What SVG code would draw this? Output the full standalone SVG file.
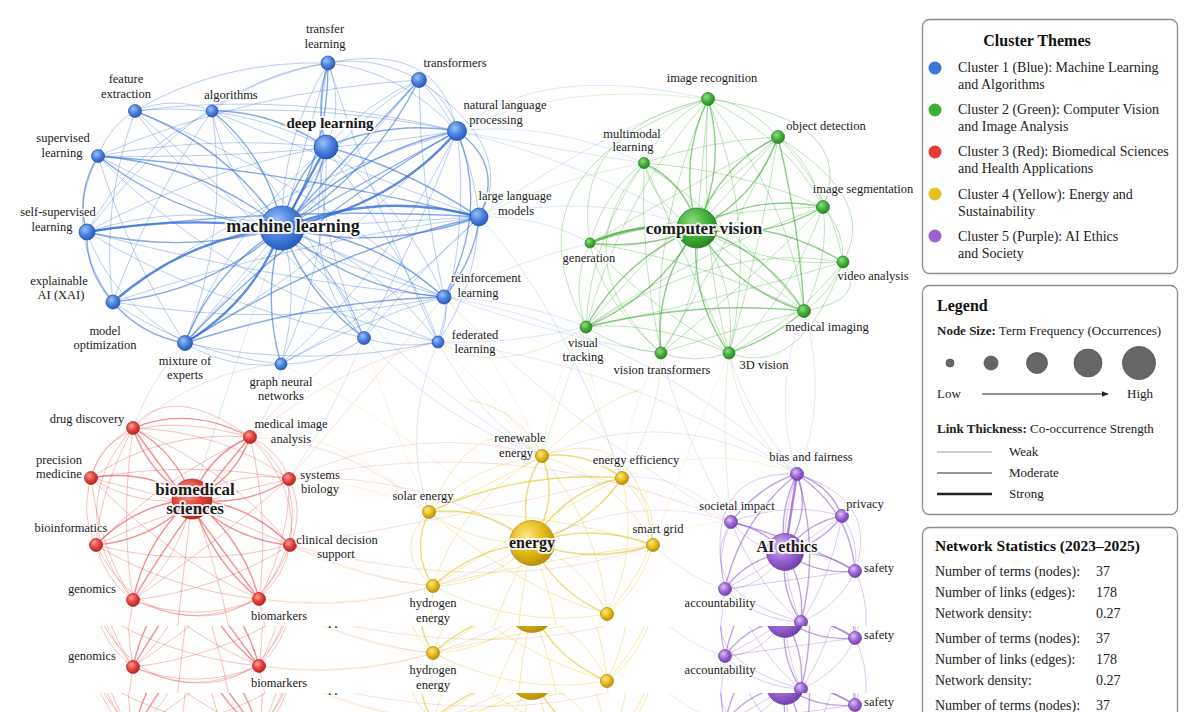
<svg xmlns="http://www.w3.org/2000/svg" xmlns:xlink="http://www.w3.org/1999/xlink" width="1200" height="712" viewBox="0 0 1200 712">
<defs>
<style>
.c path{fill:none;stroke-linecap:round}
.B{stroke:#2f6cd8}.G{stroke:#3aab31}.R{stroke:#e8403a}.Y{stroke:#e6bf18}.P{stroke:#9560d2}
.s{stroke-width:2.4;stroke-opacity:.78}
.m{stroke-width:1.4;stroke-opacity:.58}
.w{stroke-width:.85;stroke-opacity:.4}
.x{stroke-width:.7;stroke-opacity:.25}
.nd circle{stroke-width:.7}
.nb{fill:url(#gB);stroke:#1d4c9e}.ng{fill:url(#gG);stroke:#257a20}.nr{fill:url(#gR);stroke:#a8221d}.ny{fill:url(#gY);stroke:#a88306}.np{fill:url(#gP);stroke:#6a3ba5}
.lb{font-family:"Liberation Serif","DejaVu Serif",serif;font-size:12.5px;fill:#1a1a1a;stroke:#fff;stroke-width:3;stroke-opacity:.85;paint-order:stroke;stroke-linejoin:round;text-anchor:middle}
.hub{font-weight:bold;stroke-width:4}
.h18{font-size:18px}.h17{font-size:17px}.h16{font-size:16px}.h15{font-size:15px}
.pt{font-family:"Liberation Serif","DejaVu Serif",serif;font-size:14px;fill:#222}
.pb{font-weight:bold;fill:#111}
.t16{font-size:16px}.t155{font-size:15.5px}.t13{font-size:13px}
.box{fill:#fff;stroke:#8c8c8c;stroke-width:1.3}
</style>
<radialGradient id="gB" cx=".38" cy=".34" r=".72"><stop offset="0" stop-color="#9cc0f6"/><stop offset=".5" stop-color="#4a82e0"/><stop offset="1" stop-color="#2257b8"/></radialGradient>
<radialGradient id="gG" cx=".38" cy=".34" r=".72"><stop offset="0" stop-color="#92dc82"/><stop offset=".5" stop-color="#44b23c"/><stop offset="1" stop-color="#26801f"/></radialGradient>
<radialGradient id="gR" cx=".38" cy=".34" r=".72"><stop offset="0" stop-color="#f6a39b"/><stop offset=".5" stop-color="#e5433c"/><stop offset="1" stop-color="#ad231e"/></radialGradient>
<radialGradient id="gY" cx=".38" cy=".34" r=".72"><stop offset="0" stop-color="#fae88a"/><stop offset=".5" stop-color="#e7bd18"/><stop offset="1" stop-color="#b38a06"/></radialGradient>
<radialGradient id="gP" cx=".38" cy=".34" r=".72"><stop offset="0" stop-color="#dcc2f4"/><stop offset=".5" stop-color="#9e68d6"/><stop offset="1" stop-color="#6c3ca8"/></radialGradient>
<marker id="arr" viewBox="0 0 10 10" refX="9" refY="5" markerWidth="7" markerHeight="7" orient="auto"><path d="M0 1 L10 5 L0 9 Z" fill="#222"/></marker>
<clipPath id="cTop" clipPathUnits="userSpaceOnUse"><rect x="0" y="0" width="1200" height="626"/></clipPath>
<clipPath id="cS1" clipPathUnits="userSpaceOnUse"><rect x="0" y="626" width="1200" height="67"/></clipPath>
<clipPath id="cS2" clipPathUnits="userSpaceOnUse"><rect x="0" y="693" width="1200" height="19"/></clipPath>
</defs>
<rect width="1200" height="712" fill="#fff"/>
<g id="scene" clip-path="url(#cTop)">
<rect width="1200" height="626" fill="#fff"/>
<g id="connectors" class="c">
<!-- inter-cluster faint -->
<path class="B x" d="M457 131 Q550 120 644 163"/><path class="B x" d="M457 131 Q560 150 644 163"/><path class="B x" d="M479 217 Q540 215 590 243"/><path class="B x" d="M479 217 Q590 190 697 228"/><path class="B x" d="M457 131 Q580 160 697 228"/><path class="B x" d="M444 297 Q520 300 586 327"/><path class="B x" d="M438 342 Q510 345 586 327"/><path class="B x" d="M282 228 Q430 400 542 456"/><path class="B x" d="M281 364 Q280 400 250 437"/><path class="B x" d="M185 343 Q150 380 133 428"/><path class="B x" d="M364 338 Q440 420 542 456"/><path class="B x" d="M438 342 Q480 420 542 456"/><path class="B x" d="M282 228 Q230 380 192 499"/><path class="B x" d="M444 297 Q640 330 797 474"/><path class="B x" d="M282 228 Q500 330 661 353"/><path class="B x" d="M364 338 Q330 420 289 479"/><path class="B x" d="M438 342 Q400 430 429 512"/><path class="B x" d="M479 217 Q560 300 622 478"/><path class="B x" d="M479 217 Q620 120 708 99"/><path class="B x" d="M457 131 Q540 60 708 99"/>
<path class="G x" d="M586 327 Q560 400 542 456"/><path class="G x" d="M661 353 Q660 420 622 478"/><path class="G x" d="M729 353 Q740 430 797 474"/><path class="G x" d="M804 311 Q830 400 797 474"/><path class="G x" d="M586 327 Q500 380 438 342"/><path class="G x" d="M590 243 Q520 260 444 297"/><path class="G x" d="M644 163 Q550 180 479 217"/><path class="G x" d="M708 99 Q560 80 457 131"/><path class="G x" d="M729 353 Q720 420 731 522"/>
<path class="R x" d="M250 437 Q350 440 429 512"/><path class="R x" d="M289 479 Q420 470 532 543"/><path class="R x" d="M290 545 Q370 580 433 586"/><path class="R x" d="M289 479 Q420 420 542 456"/><path class="R x" d="M250 437 Q350 360 438 342"/><path class="R x" d="M289 479 Q390 360 444 297"/><path class="R x" d="M259 599 Q400 620 532 543"/><path class="R x" d="M250 437 Q300 380 364 338"/><path class="R x" d="M290 545 Q450 520 622 478"/><path class="R x" d="M289 479 Q520 430 731 522"/><path class="R x" d="M290 545 Q500 600 653 545"/><path class="R x" d="M133 428 Q200 370 281 364"/>
<path class="Y x" d="M429 512 Q390 420 364 338"/><path class="Y x" d="M542 456 Q480 380 438 342"/><path class="Y x" d="M542 456 Q550 380 586 327"/><path class="Y x" d="M622 478 Q630 400 661 353"/><path class="Y x" d="M622 478 Q590 400 586 327"/><path class="Y x" d="M429 512 Q360 480 289 479"/><path class="Y x" d="M433 586 Q360 580 290 545"/><path class="Y x" d="M433 586 Q350 610 259 599"/><path class="Y x" d="M622 478 Q710 440 797 474"/><path class="Y x" d="M653 545 Q690 520 731 522"/><path class="Y x" d="M542 456 Q500 360 444 297"/><path class="Y x" d="M532 543 Q400 420 281 364"/><path class="Y x" d="M429 512 Q330 420 250 437"/><path class="Y x" d="M653 545 Q700 420 729 353"/>
<path class="P x" d="M797 474 Q745 410 729 353"/><path class="P x" d="M797 474 Q770 390 804 311"/><path class="P x" d="M731 522 Q680 470 622 478"/><path class="P x" d="M731 522 Q640 490 532 543"/><path class="P x" d="M797 474 Q670 400 542 456"/><path class="P x" d="M725 589 Q690 580 653 545"/><path class="P x" d="M797 474 Q620 360 438 342"/><path class="P x" d="M731 522 Q680 430 661 353"/><path class="P x" d="M731 522 Q560 420 444 297"/>
<!-- blue cluster -->
<path class="B s" d="M282 228 L326 147"/><path class="B m" d="M282 228 Q317 194 326 147"/><path class="B m" d="M282 228 Q291 180 326 147"/>
<path class="B m" d="M282 228 Q329 152 328 63"/><path class="B w" d="M282 228 Q281 139 328 63"/><path class="B w" d="M282 228 L328 63"/>
<path class="B m" d="M282 228 Q372 174 419 80"/><path class="B w" d="M282 228 Q329 134 419 80"/><path class="B m" d="M282 228 L419 80"/>
<path class="B s" d="M282 228 Q395 205 457 131"/><path class="B m" d="M282 228 Q355 153 457 131"/><path class="B m" d="M282 228 L457 131"/>
<path class="B s" d="M282 228 Q380 190 479 217"/><path class="B m" d="M282 228 Q382 252 479 217"/><path class="B w" d="M282 228 L479 217"/>
<path class="B m" d="M282 228 Q351 290 444 297"/><path class="B m" d="M282 228 Q375 235 444 297"/><path class="B w" d="M282 228 L444 297"/>
<path class="B w" d="M282 228 Q342 309 438 342"/><path class="B w" d="M282 228 Q378 261 438 342"/>
<path class="B m" d="M282 228 Q307 295 364 338"/><path class="B w" d="M282 228 Q339 270 364 338"/>
<path class="B m" d="M282 228 Q261 296 281 364"/><path class="B w" d="M282 228 Q301 296 281 364"/>
<path class="B s" d="M282 228 Q253 302 185 343"/><path class="B m" d="M282 228 Q214 269 185 343"/><path class="B w" d="M282 228 L185 343"/>
<path class="B s" d="M282 228 Q186 238 113 302"/><path class="B m" d="M282 228 Q210 292 113 302"/>
<path class="B s" d="M282 228 Q184 215 87 232"/><path class="B m" d="M282 228 Q185 255 87 232"/><path class="B w" d="M282 228 Q184 200 87 232"/>
<path class="B m" d="M282 228 Q201 164 98 156"/><path class="B m" d="M282 228 Q179 220 98 156"/>
<path class="B m" d="M282 228 Q227 146 135 111"/><path class="B w" d="M282 228 Q190 192 135 111"/>
<path class="B m" d="M282 228 Q268 156 212 111"/><path class="B w" d="M282 228 Q226 182 212 111"/>
<path class="B m" d="M98 156 Q75 195 87 232"/><path class="B m" d="M87 232 Q85 270 113 302"/><path class="B m" d="M113 302 Q140 335 185 343"/><path class="B w" d="M185 343 Q230 370 281 364"/><path class="B w" d="M281 364 Q325 365 364 338"/><path class="B w" d="M364 338 Q400 350 438 342"/><path class="B w" d="M438 342 Q450 320 444 297"/><path class="B m" d="M444 297 Q475 260 479 217"/><path class="B m" d="M479 217 Q505 165 457 131"/><path class="B w" d="M457 131 Q450 100 419 80"/><path class="B w" d="M419 80 Q375 55 328 63"/><path class="B m" d="M328 63 Q315 105 326 147"/><path class="B w" d="M328 63 Q345 105 326 147"/>
<path class="B w" d="M135 111 Q173 95 212 111"/><path class="B w" d="M135 111 Q110 125 98 156"/><path class="B m" d="M212 111 Q270 110 326 147"/><path class="B w" d="M135 111 Q230 100 326 147"/><path class="B m" d="M326 147 Q390 120 457 131"/><path class="B m" d="M326 147 Q400 165 479 217"/><path class="B w" d="M326 147 Q370 100 419 80"/><path class="B w" d="M326 147 Q400 200 444 297"/><path class="B w" d="M326 147 Q330 260 281 364"/><path class="B w" d="M326 147 Q230 230 185 343"/><path class="B w" d="M326 147 Q200 170 87 232"/><path class="B w" d="M326 147 Q210 135 98 156"/>
<path class="B m" d="M185 343 Q320 300 444 297"/><path class="B m" d="M185 343 Q330 250 479 217"/><path class="B m" d="M185 343 Q300 220 457 131"/><path class="B w" d="M113 302 Q300 240 479 217"/><path class="B w" d="M113 302 Q260 190 457 131"/><path class="B m" d="M87 232 Q280 205 479 217"/><path class="B w" d="M87 232 Q270 280 444 297"/><path class="B w" d="M98 156 Q280 160 457 131"/><path class="B m" d="M98 156 Q290 170 479 217"/><path class="B w" d="M98 156 Q260 240 444 297"/><path class="B w" d="M135 111 Q290 90 457 131"/><path class="B w" d="M135 111 Q290 170 444 297"/><path class="B w" d="M135 111 Q240 200 364 338"/><path class="B w" d="M212 111 Q330 105 457 131"/><path class="B w" d="M212 111 Q300 210 364 338"/><path class="B w" d="M212 111 Q230 230 185 343"/>
<path class="B w" d="M281 364 Q390 270 457 131"/><path class="B w" d="M281 364 Q400 300 479 217"/><path class="B w" d="M281 364 Q360 320 444 297"/><path class="B w" d="M364 338 Q420 230 457 131"/><path class="B w" d="M364 338 Q420 270 479 217"/><path class="B w" d="M438 342 Q475 290 479 217"/><path class="B w" d="M438 342 Q470 230 457 131"/><path class="B m" d="M444 297 Q490 210 457 131"/><path class="B w" d="M419 80 Q470 130 479 217"/><path class="B w" d="M419 80 Q420 190 444 297"/><path class="B w" d="M419 80 Q250 90 98 156"/><path class="B w" d="M328 63 Q220 60 135 111"/><path class="B w" d="M328 63 Q400 70 457 131"/><path class="B w" d="M328 63 Q260 75 212 111"/><path class="B w" d="M328 63 Q300 200 364 338"/><path class="B w" d="M328 63 Q200 80 87 232"/><path class="B w" d="M113 302 Q60 230 98 156"/><path class="B w" d="M87 232 Q110 300 185 343"/><path class="B w" d="M98 156 Q130 260 185 343"/><path class="B w" d="M113 302 Q190 355 281 364"/><path class="B w" d="M185 343 Q310 370 438 342"/><path class="B w" d="M113 302 Q280 330 444 297"/><path class="B w" d="M135 111 Q100 210 113 302"/><path class="B w" d="M212 111 Q150 200 113 302"/><path class="B w" d="M212 111 Q130 150 87 232"/><path class="B w" d="M419 80 Q520 150 479 217"/><path class="B w" d="M328 63 Q440 40 457 131"/>
<path class="B w" d="M87 232 Q200 300 364 338"/><path class="B w" d="M98 156 Q240 300 438 342"/><path class="B w" d="M419 80 Q300 220 185 343"/><path class="B w" d="M457 131 Q330 260 185 343"/><path class="B w" d="M328 63 Q380 220 438 342"/><path class="B w" d="M212 111 Q380 180 479 217"/><path class="B w" d="M326 147 Q420 280 438 342"/><path class="B w" d="M326 147 Q300 280 364 338"/>
<!-- green cluster -->
<path class="G m" d="M697 228 Q727 165 708 99"/><path class="G m" d="M697 228 Q678 161 708 99"/><path class="G w" d="M697 228 L708 99"/>
<path class="G m" d="M697 228 Q756 199 778 137"/><path class="G m" d="M697 228 Q719 165 778 137"/><path class="G w" d="M697 228 L778 137"/>
<path class="G m" d="M697 228 Q686 183 644 163"/><path class="G w" d="M697 228 Q655 207 644 163"/>
<path class="G m" d="M697 228 Q764 242 823 207"/><path class="G m" d="M697 228 Q756 193 823 207"/>
<path class="G w" d="M697 228 Q764 268 843 262"/><path class="G m" d="M697 228 Q775 220 843 262"/>
<path class="G m" d="M697 228 Q735 289 804 311"/><path class="G m" d="M697 228 Q765 250 804 311"/><path class="G w" d="M697 228 L804 311"/>
<path class="G m" d="M697 228 Q689 297 729 353"/><path class="G w" d="M697 228 Q738 283 729 353"/>
<path class="G m" d="M697 228 Q654 283 661 353"/><path class="G w" d="M697 228 Q703 298 661 353"/>
<path class="G m" d="M697 228 Q625 258 586 327"/><path class="G m" d="M697 228 Q658 296 586 327"/>
<path class="G s" d="M697 228 Q641 221 590 243"/><path class="G m" d="M697 228 Q646 250 590 243"/>
<path class="G w" d="M708 99 Q745 100 778 137"/><path class="G w" d="M778 137 Q810 160 823 207"/><path class="G w" d="M823 207 Q845 230 843 262"/><path class="G w" d="M843 262 Q830 295 804 311"/><path class="G m" d="M804 311 Q770 340 729 353"/><path class="G w" d="M729 353 Q695 365 661 353"/><path class="G w" d="M661 353 Q620 350 586 327"/><path class="G w" d="M586 327 Q570 285 590 243"/><path class="G w" d="M590 243 Q605 190 644 163"/><path class="G w" d="M644 163 Q665 120 708 99"/>
<path class="G w" d="M708 99 Q790 140 823 207"/><path class="G w" d="M708 99 Q790 200 804 311"/><path class="G w" d="M708 99 Q650 230 661 353"/><path class="G w" d="M708 99 Q620 200 586 327"/><path class="G w" d="M708 99 Q760 230 729 353"/><path class="G w" d="M778 137 Q830 190 843 262"/><path class="G m" d="M778 137 Q800 230 804 311"/><path class="G w" d="M778 137 Q760 250 729 353"/><path class="G w" d="M778 137 Q680 220 586 327"/><path class="G w" d="M778 137 Q710 140 644 163"/><path class="G w" d="M644 163 Q740 230 804 311"/><path class="G w" d="M644 163 Q590 240 586 327"/><path class="G w" d="M644 163 Q640 260 661 353"/><path class="G w" d="M644 163 Q740 170 823 207"/><path class="G w" d="M823 207 Q830 260 804 311"/><path class="G w" d="M823 207 Q790 300 729 353"/><path class="G w" d="M823 207 Q700 250 586 327"/><path class="G w" d="M823 207 Q700 210 590 243"/><path class="G w" d="M843 262 Q800 320 729 353"/><path class="G w" d="M843 262 Q720 300 586 327"/><path class="G w" d="M804 311 Q730 330 661 353"/><path class="G m" d="M804 311 Q700 300 586 327"/><path class="G w" d="M804 311 Q700 260 590 243"/><path class="G w" d="M729 353 Q650 320 586 327"/><path class="G w" d="M729 353 Q640 300 590 243"/><path class="G w" d="M661 353 Q600 300 590 243"/>
<path class="G w" d="M586 327 Q500 170 708 99"/><path class="G w" d="M590 243 Q570 130 708 99"/><path class="G w" d="M778 137 Q880 200 843 262"/><path class="G w" d="M804 311 Q870 300 843 262"/><path class="G w" d="M729 353 Q800 380 843 262"/><path class="G w" d="M708 99 Q860 120 823 207"/><path class="G w" d="M644 163 Q560 260 661 353"/>
<path class="G w" d="M708 99 Q700 250 729 353"/><path class="G w" d="M778 137 Q720 260 661 353"/><path class="G w" d="M823 207 Q740 290 661 353"/><path class="G w" d="M644 163 Q700 290 729 353"/><path class="G w" d="M590 243 Q720 170 778 137"/><path class="G w" d="M586 327 Q720 240 843 262"/>
<!-- red cluster -->
<path class="R m" d="M192 499 Q177 452 133 428"/><path class="R m" d="M192 499 Q149 475 133 428"/>
<path class="R m" d="M192 499 Q235 480 250 437"/><path class="R m" d="M192 499 Q208 455 250 437"/>
<path class="R m" d="M192 499 Q146 468 91 478"/><path class="R w" d="M192 499 Q138 508 91 478"/>
<path class="R m" d="M192 499 Q245 508 289 479"/><path class="R w" d="M192 499 Q238 469 289 479"/>
<path class="R m" d="M192 499 Q136 504 96 545"/><path class="R m" d="M192 499 Q153 540 96 545"/>
<path class="R m" d="M192 499 Q233 540 290 545"/><path class="R m" d="M192 499 Q250 504 290 545"/>
<path class="R m" d="M192 499 Q146 539 133 600"/><path class="R w" d="M192 499 Q180 559 133 600"/>
<path class="R m" d="M192 499 Q210 559 259 599"/><path class="R m" d="M192 499 Q243 538 259 599"/>
<path class="R m" d="M133 428 Q190 405 250 437"/><path class="R w" d="M133 428 Q100 445 91 478"/><path class="R w" d="M91 478 Q80 515 96 545"/><path class="R w" d="M96 545 Q105 580 133 600"/><path class="R w" d="M133 600 Q196 625 259 599"/><path class="R w" d="M259 599 Q285 575 290 545"/><path class="R w" d="M290 545 Q305 510 289 479"/><path class="R w" d="M289 479 Q280 450 250 437"/>
<path class="R w" d="M133 428 Q220 430 289 479"/><path class="R w" d="M133 428 Q230 470 290 545"/><path class="R m" d="M133 428 Q200 520 259 599"/><path class="R w" d="M133 428 Q120 520 133 600"/><path class="R w" d="M133 428 Q100 490 96 545"/><path class="R w" d="M250 437 Q160 430 91 478"/><path class="R w" d="M250 437 Q160 480 96 545"/><path class="R m" d="M250 437 Q180 520 133 600"/><path class="R w" d="M250 437 Q270 520 259 599"/><path class="R w" d="M250 437 Q300 490 290 545"/><path class="R w" d="M91 478 Q190 460 289 479"/><path class="R w" d="M91 478 Q190 500 290 545"/><path class="R w" d="M91 478 Q170 560 259 599"/><path class="R w" d="M91 478 Q100 550 133 600"/><path class="R w" d="M96 545 Q190 500 289 479"/><path class="R w" d="M96 545 Q193 570 290 545"/><path class="R w" d="M96 545 Q170 590 259 599"/><path class="R w" d="M133 600 Q220 540 289 479"/><path class="R w" d="M133 600 Q220 590 290 545"/><path class="R w" d="M259 599 Q290 540 289 479"/>
<path class="R w" d="M133 428 Q60 510 133 600"/><path class="R w" d="M250 437 Q330 500 259 599"/><path class="R w" d="M96 545 Q150 650 259 599"/><path class="R w" d="M91 478 Q110 400 250 437"/><path class="R w" d="M133 600 Q250 650 290 545"/><path class="R w" d="M133 600 Q125 650 120 700"/><path class="R w" d="M259 599 Q270 650 280 700"/><path class="R w" d="M192 499 Q180 600 170 700"/><path class="R w" d="M192 499 Q230 600 240 700"/><path class="R w" d="M133 428 Q170 380 250 437"/>
<!-- yellow cluster -->
<path class="Y m" d="M532 543 Q560 500 542 456"/><path class="Y m" d="M532 543 Q515 498 542 456"/>
<path class="Y m" d="M532 543 Q590 525 622 478"/><path class="Y m" d="M532 543 Q565 490 622 478"/>
<path class="Y m" d="M532 543 Q485 505 429 512"/><path class="Y w" d="M532 543 Q475 545 429 512"/>
<path class="Y m" d="M532 543 Q592 565 653 545"/><path class="Y m" d="M532 543 Q592 522 653 545"/>
<path class="Y m" d="M532 543 Q475 548 433 586"/><path class="Y w" d="M532 543 Q490 585 433 586"/>
<path class="Y m" d="M532 543 Q555 592 607 614"/><path class="Y w" d="M532 543 Q585 565 607 614"/>
<path class="Y w" d="M532 543 Q510 640 520 720"/><path class="Y w" d="M532 543 Q570 640 560 720"/><path class="Y w" d="M532 543 Q480 640 470 720"/>
<path class="Y m" d="M542 456 Q585 450 622 478"/><path class="Y w" d="M622 478 Q650 505 653 545"/><path class="Y w" d="M653 545 Q640 590 607 614"/><path class="Y w" d="M607 614 Q520 630 433 586"/><path class="Y m" d="M433 586 Q410 550 429 512"/><path class="Y w" d="M429 512 Q470 465 542 456"/>
<path class="Y w" d="M542 456 Q620 480 653 545"/><path class="Y w" d="M542 456 Q460 500 433 586"/><path class="Y w" d="M542 456 Q600 530 607 614"/><path class="Y w" d="M542 456 Q480 490 429 512"/><path class="Y m" d="M622 478 Q520 470 429 512"/><path class="Y w" d="M622 478 Q520 530 433 586"/><path class="Y w" d="M622 478 Q640 550 607 614"/><path class="Y w" d="M429 512 Q540 510 653 545"/><path class="Y w" d="M429 512 Q520 590 607 614"/><path class="Y w" d="M433 586 Q540 560 653 545"/><path class="Y w" d="M429 512 Q390 550 433 586"/>
<path class="Y w" d="M542 456 Q480 400 429 512"/><path class="Y w" d="M542 456 Q640 420 653 545"/><path class="Y w" d="M622 478 Q690 520 607 614"/><path class="Y w" d="M433 586 Q430 650 420 700"/><path class="Y w" d="M607 614 Q610 660 620 700"/><path class="Y w" d="M542 456 Q520 410 470 400"/><path class="Y w" d="M542 456 Q600 400 640 390"/>
<!-- purple cluster -->
<path class="P s" d="M785 552 L797 474"/><path class="P m" d="M785 552 Q812 512 797 474"/><path class="P m" d="M785 552 Q778 512 797 474"/>
<path class="P m" d="M785 552 Q762 528 731 522"/><path class="P w" d="M785 552 Q752 548 731 522"/>
<path class="P m" d="M785 552 Q820 545 842 516"/><path class="P m" d="M785 552 Q808 522 842 516"/>
<path class="P m" d="M785 552 Q815 575 855 571"/><path class="P m" d="M785 552 Q825 550 855 571"/>
<path class="P m" d="M785 552 Q745 560 725 589"/><path class="P w" d="M785 552 Q760 590 725 589"/>
<path class="P m" d="M785 552 Q780 590 801 622"/><path class="P m" d="M785 552 Q805 585 801 622"/>
<path class="P m" d="M797 474 Q760 485 731 522"/><path class="P m" d="M797 474 Q830 485 842 516"/><path class="P w" d="M842 516 Q860 540 855 571"/><path class="P w" d="M855 571 Q840 605 801 622"/><path class="P w" d="M801 622 Q755 620 725 589"/><path class="P w" d="M725 589 Q715 555 731 522"/>
<path class="P m" d="M797 474 Q740 520 725 589"/><path class="P m" d="M797 474 Q850 510 855 571"/><path class="P m" d="M797 474 Q820 550 801 622"/><path class="P w" d="M797 474 Q770 550 801 622"/><path class="P w" d="M731 522 Q790 500 842 516"/><path class="P m" d="M731 522 Q800 540 855 571"/><path class="P w" d="M731 522 Q760 590 801 622"/><path class="P w" d="M842 516 Q780 560 725 589"/><path class="P w" d="M842 516 Q830 580 801 622"/><path class="P w" d="M725 589 Q790 580 855 571"/>
<path class="P w" d="M731 522 Q690 590 801 622"/><path class="P w" d="M797 474 Q880 500 855 571"/><path class="P w" d="M797 474 Q700 470 725 589"/><path class="P w" d="M801 622 Q800 670 790 720"/><path class="P w" d="M725 589 Q720 650 700 720"/><path class="P w" d="M855 571 Q880 620 850 700"/>
</g>
<!-- nodes: blue -->
<g id="n-machine-learning" class="nd"><circle class="nb" cx="282" cy="228" r="22"/><text class="lb hub h18" x="293" y="232">machine learning</text></g>
<g id="n-deep-learning" class="nd"><circle class="nb" cx="326" cy="147" r="12"/><text class="lb hub h15" x="330" y="128">deep learning</text></g>
<g id="n-transfer-learning" class="nd"><circle class="nb" cx="328" cy="63" r="7"/><text class="lb" x="325" y="33">transfer</text><text class="lb" x="325" y="48">learning</text></g>
<g id="n-transformers" class="nd"><circle class="nb" cx="419" cy="80" r="7.5"/><text class="lb" x="455" y="67">transformers</text></g>
<g id="n-nlp" class="nd"><circle class="nb" cx="457" cy="131" r="9.5"/><text class="lb" x="505" y="109">natural language</text><text class="lb" x="496" y="124">processing</text></g>
<g id="n-llm" class="nd"><circle class="nb" cx="479" cy="217" r="9"/><text class="lb" x="515" y="200">large language</text><text class="lb" x="516" y="215">models</text></g>
<g id="n-reinforcement-learning" class="nd"><circle class="nb" cx="444" cy="297" r="7"/><text class="lb" x="486" y="282">reinforcement</text><text class="lb" x="478" y="297">learning</text></g>
<g id="n-federated-learning" class="nd"><circle class="nb" cx="438" cy="342" r="6"/><text class="lb" x="475" y="339">federated</text><text class="lb" x="475" y="353">learning</text></g>
<g id="n-blue-unlabeled" class="nd"><circle class="nb" cx="364" cy="338" r="6.5"/></g>
<g id="n-gnn" class="nd"><circle class="nb" cx="281" cy="364" r="6"/><text class="lb" x="281" y="386">graph neural</text><text class="lb" x="281" y="400">networks</text></g>
<g id="n-moe" class="nd"><circle class="nb" cx="185" cy="343" r="7.5"/><text class="lb" x="185" y="365">mixture of</text><text class="lb" x="185" y="379">experts</text></g>
<g id="n-xai" class="nd"><circle class="nb" cx="113" cy="302" r="7"/><text class="lb" x="59" y="285">explainable</text><text class="lb" x="61" y="299">AI (XAI)</text><text class="lb" x="105" y="335">model</text><text class="lb" x="105" y="349">optimization</text></g>
<g id="n-self-supervised" class="nd"><circle class="nb" cx="87" cy="232" r="8"/><text class="lb" x="58" y="216">self-supervised</text><text class="lb" x="52" y="231">learning</text></g>
<g id="n-supervised" class="nd"><circle class="nb" cx="98" cy="156" r="6.5"/><text class="lb" x="63" y="142">supervised</text><text class="lb" x="62" y="157">learning</text></g>
<g id="n-feature-extraction" class="nd"><circle class="nb" cx="135" cy="111" r="6.5"/><text class="lb" x="126" y="83">feature</text><text class="lb" x="126" y="98">extraction</text></g>
<g id="n-algorithms" class="nd"><circle class="nb" cx="212" cy="111" r="6"/><text class="lb" x="231" y="99">algorithms</text></g>
<!-- green -->
<g id="n-computer-vision" class="nd"><circle class="ng" cx="697" cy="228" r="20"/><text class="lb hub h17" x="704" y="234">computer vision</text></g>
<g id="n-image-recognition" class="nd"><circle class="ng" cx="708" cy="99" r="6.5"/><text class="lb" x="712" y="82">image recognition</text></g>
<g id="n-object-detection" class="nd"><circle class="ng" cx="778" cy="137" r="6.5"/><text class="lb" x="826" y="130">object detection</text></g>
<g id="n-multimodal" class="nd"><circle class="ng" cx="644" cy="163" r="5.5"/><text class="lb" x="632" y="138">multimodal</text><text class="lb" x="633" y="151">learning</text></g>
<g id="n-image-segmentation" class="nd"><circle class="ng" cx="823" cy="207" r="6.5"/><text class="lb" x="863" y="193">image segmentation</text></g>
<g id="n-video-analysis" class="nd"><circle class="ng" cx="843" cy="262" r="6"/><text class="lb" x="873" y="280">video analysis</text></g>
<g id="n-medical-imaging" class="nd"><circle class="ng" cx="804" cy="311" r="6.5"/><text class="lb" x="827" y="331">medical imaging</text></g>
<g id="n-3d-vision" class="nd"><circle class="ng" cx="729" cy="353" r="6"/><text class="lb" x="764" y="369">3D vision</text></g>
<g id="n-vision-transformers" class="nd"><circle class="ng" cx="661" cy="353" r="6"/><text class="lb" x="662" y="374">vision transformers</text></g>
<g id="n-visual-tracking" class="nd"><circle class="ng" cx="586" cy="327" r="6"/><text class="lb" x="583" y="347">visual</text><text class="lb" x="583" y="361">tracking</text></g>
<g id="n-generation" class="nd"><circle class="ng" cx="590" cy="243" r="5"/><text class="lb" x="589" y="262">generation</text></g>
<!-- red -->
<g id="n-biomedical-sciences" class="nd"><circle class="nr" cx="192" cy="499" r="20"/><text class="lb hub h17" x="195" y="495">biomedical</text><text class="lb hub h17" x="195" y="514">sciences</text></g>
<g id="n-drug-discovery" class="nd"><circle class="nr" cx="133" cy="428" r="6.5"/><text class="lb" x="87" y="423">drug discovery</text></g>
<g id="n-medical-image-analysis" class="nd"><circle class="nr" cx="250" cy="437" r="6.5"/><text class="lb" x="291" y="428">medical image</text><text class="lb" x="291" y="443">analysis</text></g>
<g id="n-precision-medicine" class="nd"><circle class="nr" cx="91" cy="478" r="6.5"/><text class="lb" x="59" y="464">precision</text><text class="lb" x="59" y="478">medicine</text></g>
<g id="n-systems-biology" class="nd"><circle class="nr" cx="289" cy="479" r="6.5"/><text class="lb" x="320" y="479">systems</text><text class="lb" x="320" y="493">biology</text></g>
<g id="n-bioinformatics" class="nd"><circle class="nr" cx="96" cy="545" r="6.5"/><text class="lb" x="71" y="532">bioinformatics</text></g>
<g id="n-clinical-decision-support" class="nd"><circle class="nr" cx="290" cy="545" r="6.5"/><text class="lb" x="337" y="544">clinical decision</text><text class="lb" x="336" y="558">support</text></g>
<g id="n-genomics" class="nd"><circle class="nr" cx="133" cy="600" r="6.5"/><text class="lb" x="92" y="593">genomics</text></g>
<g id="n-biomarkers" class="nd"><circle class="nr" cx="259" cy="599" r="6.5"/><text class="lb" x="279" y="620">biomarkers</text></g>
<!-- yellow -->
<g id="n-energy" class="nd"><circle class="ny" cx="532" cy="543" r="22.5"/><text class="lb hub h16" x="532" y="548">energy</text></g>
<g id="n-renewable-energy" class="nd"><circle class="ny" cx="542" cy="456" r="6.5"/><text class="lb" x="520" y="442">renewable</text><text class="lb" x="516" y="457">energy</text></g>
<g id="n-energy-efficiency" class="nd"><circle class="ny" cx="622" cy="478" r="6.5"/><text class="lb" x="636" y="464">energy efficiency</text></g>
<g id="n-solar-energy" class="nd"><circle class="ny" cx="429" cy="512" r="6.5"/><text class="lb" x="423" y="500">solar energy</text></g>
<g id="n-smart-grid" class="nd"><circle class="ny" cx="653" cy="545" r="6.5"/><text class="lb" x="658" y="533">smart grid</text></g>
<g id="n-hydrogen-energy" class="nd"><circle class="ny" cx="433" cy="586" r="6.5"/><text class="lb" x="433" y="607">hydrogen</text><text class="lb" x="433" y="622">energy</text></g>
<g id="n-yellow-unlabeled" class="nd"><circle class="ny" cx="607" cy="614" r="6.5"/></g>
<!-- purple -->
<g id="n-ai-ethics" class="nd"><circle class="np" cx="785" cy="552" r="18.5"/><text class="lb hub h16" x="787" y="552">AI ethics</text></g>
<g id="n-bias-fairness" class="nd"><circle class="np" cx="797" cy="474" r="6.5"/><text class="lb" x="811" y="461">bias and fairness</text></g>
<g id="n-societal-impact" class="nd"><circle class="np" cx="731" cy="522" r="6.5"/><text class="lb" x="737" y="510">societal impact</text></g>
<g id="n-privacy" class="nd"><circle class="np" cx="842" cy="516" r="6.5"/><text class="lb" x="865" y="508">privacy</text></g>
<g id="n-safety" class="nd"><circle class="np" cx="855" cy="571" r="6.5"/><text class="lb" x="879" y="572">safety</text></g>
<g id="n-accountability" class="nd"><circle class="np" cx="725" cy="589" r="6.5"/><text class="lb" x="720" y="607">accountability</text></g>
<g id="n-purple-unlabeled" class="nd"><circle class="np" cx="801" cy="622" r="6.5"/></g>
<!-- panels -->
<g id="cluster-themes">
<rect class="box" x="922.5" y="19.5" width="255" height="254" rx="7"/>
<text class="pt pb t16" x="1037" y="46" text-anchor="middle">Cluster Themes</text>
<circle cx="935" cy="68" r="6.5" fill="#3a76d8"/><text class="pt" x="958" y="72">Cluster 1 (Blue): Machine Learning</text><text class="pt" x="958" y="89">and Algorithms</text>
<circle cx="935" cy="110" r="6.5" fill="#3fae36"/><text class="pt" x="958" y="114">Cluster 2 (Green): Computer Vision</text><text class="pt" x="958" y="131">and Image Analysis</text>
<circle cx="935" cy="152" r="6.5" fill="#e23c36"/><text class="pt" x="958" y="156">Cluster 3 (Red): Biomedical Sciences</text><text class="pt" x="958" y="173">and Health Applications</text>
<circle cx="935" cy="194" r="6.5" fill="#e8c020"/><text class="pt" x="958" y="199">Cluster 4 (Yellow): Energy and</text><text class="pt" x="958" y="216">Sustainability</text>
<circle cx="935" cy="236" r="6.5" fill="#9a62d0"/><text class="pt" x="958" y="241">Cluster 5 (Purple): AI Ethics</text><text class="pt" x="958" y="258">and Society</text>
</g>
<g id="legend">
<rect class="box" x="922.5" y="285.5" width="255" height="229" rx="7"/>
<text class="pt pb t16" x="937" y="311">Legend</text>
<text class="pt t13" x="937" y="335"><tspan font-weight="bold">Node Size:</tspan> Term Frequency (Occurrences)</text>
<g fill="#666" stroke="#555" stroke-width=".8"><circle cx="950" cy="363" r="4"/><circle cx="991" cy="363" r="7"/><circle cx="1037" cy="363" r="10.5"/><circle cx="1088" cy="363" r="14"/><circle cx="1139" cy="363" r="16.5"/></g>
<text class="pt t13" x="937" y="398">Low</text>
<line x1="982" y1="394" x2="1108" y2="394" stroke="#222" stroke-width="1" marker-end="url(#arr)"/>
<text class="pt t13" x="1127" y="398">High</text>
<text class="pt t13" x="937" y="433"><tspan font-weight="bold">Link Thickness:</tspan> Co-occurrence Strength</text>
<line x1="937" y1="452" x2="992" y2="452" stroke="#9a9a9a" stroke-width="1"/><text class="pt t13" x="1009" y="456">Weak</text>
<line x1="937" y1="473" x2="992" y2="473" stroke="#707070" stroke-width="1.5"/><text class="pt t13" x="1009" y="477">Moderate</text>
<line x1="937" y1="494" x2="992" y2="494" stroke="#222" stroke-width="2.5"/><text class="pt t13" x="1009" y="498">Strong</text>
</g>
<g id="network-statistics">
<rect class="box" x="922.5" y="527.5" width="255" height="260" rx="7"/>
<text class="pt pb t155" x="935" y="551">Network Statistics (2023–2025)</text>
<text class="pt" x="935" y="576">Number of terms (nodes):</text><text class="pt" x="1096" y="576">37</text>
<text class="pt" x="935" y="597">Number of links (edges):</text><text class="pt" x="1096" y="597">178</text>
<text class="pt" x="935" y="618">Network density:</text><text class="pt" x="1096" y="618">0.27</text>
</g>
</g>
<g id="strip-1" clip-path="url(#cS1)"><use xlink:href="#scene" href="#scene" transform="translate(0,67)"/></g>
<g id="strip-2" clip-path="url(#cS2)"><use xlink:href="#scene" href="#scene" transform="translate(0,134)"/></g>
</svg>
